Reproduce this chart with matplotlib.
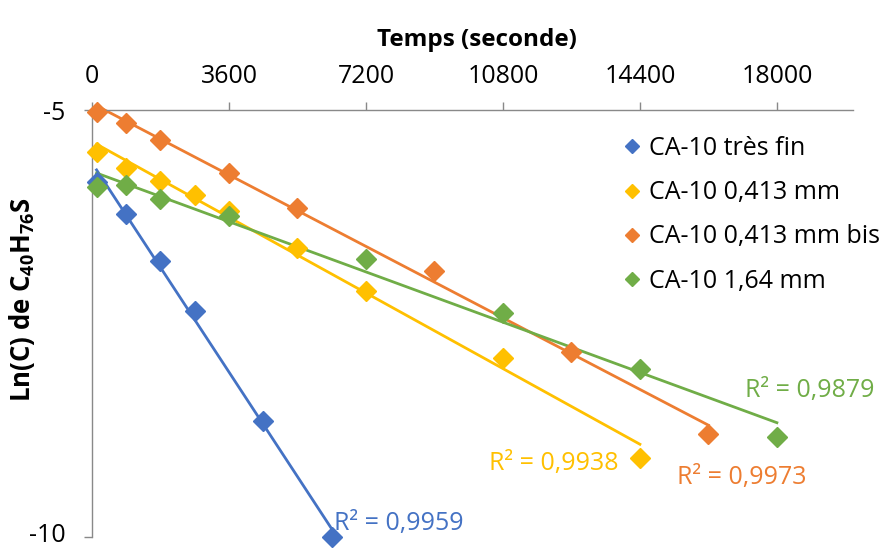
import matplotlib.pyplot as plt
import matplotlib.transforms as mtransforms
import numpy as np

plt.rcParams['font.family'] = ['Open Sans', 'DejaVu Sans']
plt.rcParams['axes.unicode_minus'] = False
plt.rcParams['mathtext.fontset'] = 'custom'
plt.rcParams['mathtext.rm'] = 'Open Sans'
plt.rcParams['mathtext.bf'] = 'Open Sans:bold'

# data (time in s, ln(C))
t_fin = [120, 900, 1800, 2700, 4500, 6300]
y_fin = [-5.84, -6.22, -6.77, -7.35, -8.64, -10.0]

t_413 = [120, 900, 1800, 2700, 3600, 5400, 7200, 10800, 14400]
y_413 = [-5.49, -5.68, -5.83, -5.99, -6.18, -6.62, -7.12, -7.90, -9.07]

t_bis = [120, 900, 1800, 3600, 5400, 9000, 12600, 16200]
y_bis = [-5.02, -5.15, -5.35, -5.74, -6.15, -6.89, -7.83, -8.79]

t_164 = [120, 900, 1800, 3600, 7200, 10800, 14400, 18000]
y_164 = [-5.90, -5.88, -6.04, -6.24, -6.74, -7.38, -8.03, -8.83]

names = ['CA-10 très fin', 'CA-10 0,413 mm', 'CA-10 0,413 mm bis', 'CA-10 1,64 mm']
r2_labels = ['R² = 0,9959', 'R² = 0,9938', 'R² = 0,9973', 'R² = 0,9879']
colors = ['#4472C4', '#FFC000', '#ED7D31', '#70AD47']
xticks = [0, 3600, 7200, 10800, 14400, 18000]

series = [(t_fin, y_fin), (t_413, y_413), (t_bis, y_bis), (t_164, y_164)]
# label offsets from trendline end (pixels), and alignment
lab_off = [(2, 5, 'left'), (-21, -19, 'right'), (-31, -52, 'left'), (-32, 32, 'left')]

FS = 18

fig = plt.figure(figsize=(8.85, 5.5), dpi=100)
ax = fig.add_axes([92 / 885, 13 / 550, 761 / 885, 427 / 550])

for (t, y), c in zip(series, colors):
    k, b = np.polyfit(t, y, 1)
    xs = np.array([min(t), max(t)])
    ax.plot(xs, k * xs + b, color=c, lw=2.0, zorder=2, clip_on=False)

for (t, y), c, n in zip(series, colors, names):
    ax.plot(t, y, ls='none', marker='D', ms=10.5, color=c, mec=c,
            label=n, zorder=3, clip_on=False)

for (t, y), c, lab, (dx, dy, ha) in zip(series, colors, r2_labels, lab_off):
    k, b = np.polyfit(t, y, 1)
    xe = max(t)
    ax.annotate(lab, xy=(xe, k * xe + b), xytext=(dx, dy),
                textcoords='offset pixels', ha=ha, va='center',
                color=c, fontsize=FS, zorder=4)

ax.set_xlim(0, 20000)
ax.set_ylim(-10, -5)
ax.set_xticks(xticks)
ax.set_yticks([-10, -5])
ax.xaxis.tick_top()
ax.xaxis.set_label_position('top')

for s in ['bottom', 'right']:
    ax.spines[s].set_visible(False)
for s in ['top', 'left']:
    ax.spines[s].set_color('#898989')
    ax.spines[s].set_linewidth(1.0)

ax.tick_params(axis='both', direction='out', length=6, width=1.0,
               color='#898989', labelsize=FS, labelcolor='black')
ax.tick_params(axis='x', pad=9)
ax.tick_params(axis='y', pad=13)

# keep the bottom "-10" label inside the canvas
lbl = ax.yaxis.get_major_ticks()[0].label1
lbl.set_transform(lbl.get_transform()
                  + mtransforms.ScaledTranslation(0, 4 / 100, fig.dpi_scale_trans))

ax.set_xlabel('Temps (seconde)', fontsize=17.5, fontweight='bold', labelpad=13)
ax.xaxis.label.set_x(0.506)
ax.set_ylabel(r'Ln(C) de C$_\mathbf{40}$H$_\mathbf{76}$S', fontsize=18.5,
              fontweight='bold')
ax.yaxis.set_label_coords(-0.072, 0.555)

ax.legend(loc='upper left', bbox_to_anchor=(624 / 885, 1 - 136 / 550),
          bbox_transform=fig.transFigure, frameon=False, fontsize=FS,
          markerscale=0.65, handlelength=0.6, handletextpad=0.4,
          labelspacing=0.77, borderaxespad=0, borderpad=0)

fig.savefig('out.png', dpi=100)
